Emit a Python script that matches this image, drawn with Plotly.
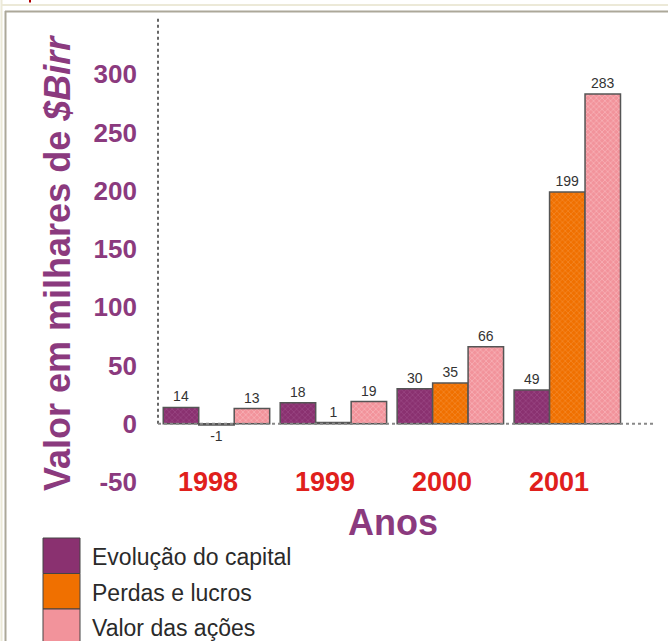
import plotly.graph_objects as go

# ---------------- data ----------------
years = ["1998", "1999", "2000", "2001"]
series_names = ["Evolução do capital", "Perdas e lucros", "Valor das ações"]
capital_values = [14, 18, 30, 29]          # bar heights as drawn
capital_labels = ["14", "18", "30", "49"]  # labels as printed
perdas_values = [-1, 1, 35, 199]
perdas_labels = ["-1", "1", "35", "199"]
valor_values = [13, 19, 66, 283]
valor_labels = ["13", "19", "66", "283"]
y_ticks = [-50, 0, 50, 100, 150, 200, 250, 300]

# ---------------- style ----------------
W, H = 668, 641
ML, MR, MT, MB = 158, 13, 16, 159
PW, PH = W - ML - MR, H - MT - MB
FONT = "Liberation Sans, Arial, sans-serif"
PURPLE_TXT = "#8B3A7E"
RED_TXT = "#E0201C"
styles = [
    dict(bg="#8A3170", fg="#A0508A"),
    dict(bg="#F07000", fg="#F5923A"),
    dict(bg="#F2939B", fg="#FAC0C5"),
]

def px2x(px):
    return (px - ML) / PW

def px2y(py):
    return (MT + PH - py) / PH

fig = go.Figure()
vals = [capital_values, perdas_values, valor_values]
labs = [capital_labels, perdas_labels, valor_labels]
for name, v, t, st in zip(series_names, vals, labs, styles):
    fig.add_trace(go.Bar(
        x=years, y=v, name=name, text=t, textposition="outside",
        textfont=dict(family=FONT, size=14, color="#333333"),
        cliponaxis=False, showlegend=False,
        marker=dict(
            color=st["bg"],
            line=dict(color="#555555", width=1.5),
            pattern=dict(shape="x", size=4, solidity=0.25,
                         fgcolor=st["fg"], bgcolor=st["bg"], fillmode="replace"),
        ),
    ))

shapes = []
# axis lines (dotted)
shapes.append(dict(type="line", xref="paper", yref="y", x0=0, x1=0, y0=0, y1=350,
                   line=dict(color="#666666", width=2, dash="dot")))
shapes.append(dict(type="line", xref="paper", yref="y", x0=0, x1=1, y0=0, y1=0,
                   line=dict(color="#888888", width=2, dash="dot")))
# page frame decorations
shapes.append(dict(type="line", xref="paper", yref="paper", x0=px2x(1.5), x1=px2x(1.5),
                   y0=px2y(0), y1=px2y(H), line=dict(color="#ECE9D8", width=2)))
shapes.append(dict(type="line", xref="paper", yref="paper", x0=px2x(2), x1=px2x(W),
                   y0=px2y(5), y1=px2y(5), line=dict(color="#ECE9D8", width=2)))
shapes.append(dict(type="line", xref="paper", yref="paper", x0=px2x(5), x1=px2x(W),
                   y0=px2y(11.5), y1=px2y(11.5), line=dict(color="#ACA899", width=2)))
shapes.append(dict(type="line", xref="paper", yref="paper", x0=px2x(5.5), x1=px2x(5.5),
                   y0=px2y(11), y1=px2y(H), line=dict(color="#ACA899", width=2)))
shapes.append(dict(type="line", xref="paper", yref="paper", x0=px2x(30), x1=px2x(30),
                   y0=px2y(0), y1=px2y(2.5), line=dict(color="#B00000", width=2)))

annotations = []
# year labels (x given as category index)
for i, yr in enumerate(years):
    annotations.append(dict(x=i, y=0, xref="x", yref="paper", text="<b>%s</b>" % yr,
                            showarrow=False, xshift=-8, yanchor="middle",
                            font=dict(family=FONT, size=27, color=RED_TXT)))
# axis titles
annotations.append(dict(x=px2x(393), y=px2y(522), xref="paper", yref="paper",
                        text="<b>Anos</b>", showarrow=False, xanchor="center", yanchor="middle",
                        font=dict(family=FONT, size=36, color=PURPLE_TXT)))
annotations.append(dict(x=px2x(57), y=px2y(263), xref="paper", yref="paper",
                        text="<b>Valor em milhares de <i>$Birr</i></b>", textangle=-90,
                        showarrow=False, xanchor="center", yanchor="middle",
                        font=dict(family=FONT, size=36, color=PURPLE_TXT)))
# custom legend
row_top, row_h = 538, 35.5
for i, (name, st) in enumerate(zip(series_names, styles)):
    y0 = row_top + i * row_h
    shapes.append(dict(type="rect", xref="paper", yref="paper",
                       x0=px2x(43), x1=px2x(80), y0=px2y(y0), y1=px2y(y0 + row_h),
                       fillcolor=st["bg"], line=dict(color="#444444", width=1)))
    annotations.append(dict(x=px2x(90), y=px2y(y0 + row_h / 2 + 1.5), xref="paper", yref="paper",
                            text=name, showarrow=False, xanchor="left", yanchor="middle",
                            font=dict(family=FONT, size=23, color="#2a2a2a")))

fig.update_layout(
    width=W, height=H,
    margin=dict(l=ML, r=MR, t=MT, b=MB, pad=0),
    paper_bgcolor="white", plot_bgcolor="white",
    barmode="group", bargap=0.09, bargroupgap=0,
    showlegend=False,
    xaxis=dict(type="category", range=[-0.5, 3.75], showticklabels=False, showgrid=False,
               zeroline=False, showline=False, ticks=""),
    yaxis=dict(range=[-50, 350], tickvals=y_ticks, ticktext=[str(v) for v in y_ticks],
               showgrid=False, zeroline=False,
               showline=False, ticks="", ticklabelstandoff=20,
               tickfont=dict(family=FONT, size=26, color=PURPLE_TXT, weight="bold")),
    shapes=shapes, annotations=annotations,
)

fig.write_html("out.html")
